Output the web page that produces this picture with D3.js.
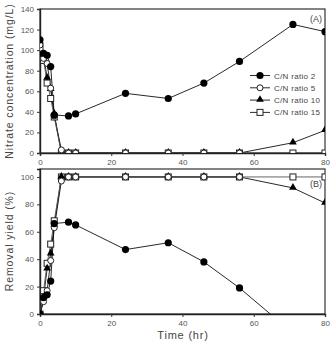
<!DOCTYPE html>
<html>
<head>
<meta charset="utf-8">
<script src="https://cdn.jsdelivr.net/npm/d3@7"></script>
<style>
  body { margin: 0; background: #fff; }
  text { font-family: "Liberation Sans", Arial, sans-serif; }
</style>
</head>
<body>
<div id="chart"></div>
<script>

// час відбору проб
var timeA2 = [0, 1, 2, 3, 4, 8, 10, 24, 36, 46, 56, 71, 80];
var timeA5 = [0, 1, 2, 3, 4, 6, 8, 10, 24, 36, 46, 56];
var timeAll = [0, 1, 2, 3, 4, 6, 8, 10, 24, 36, 46, 56, 71, 80];

// (A) нітрати, mg/L
var nitrate2  = [110, 97, 95, 84, 37, 36, 38, 58, 53, 68, 89, 125, 118];
var nitrate5  = [105, 92, 87, 63, 36, 3, 0, 0, 0, 0, 0, 0];
var nitrate10 = [108, 95, 73, 62, 38, 0, 0, 0, 0, 0, 0, 0, 10, 22];
var nitrate15 = [102, 90, 68, 53, 35, 0, 0, 0, 0, 0, 0, 0, 0, 0];

// (B) ефективність видалення, %
var yield2  = [0, 12, 14, 24, 66, 67, 65, 47, 52, 38, 19, -14, -7];
var yield5  = [0, 9, 17, 39, 63, 97, 100, 100, 100, 100, 100, 100];
var yield10 = [0, 12, 33, 44, 65, 100, 100, 100, 100, 100, 100, 100, 92, 81];
var yield15 = [0, 17, 37, 51, 68, 100, 100, 100, 100, 100, 100, 100, 100, 100];

var seriesNames = ["C/N  ratio  2", "C/N  ratio  5", "C/N  ratio  10", "C/N  ratio  15"];
var xTicks = [0, 20, 40, 60, 80];
var yTicksA = [0, 20, 40, 60, 80, 100, 120, 140];
var yTicksB = [0, 20, 40, 60, 80, 100];

var width = 331, height = 341;
var left = 40, right = 325;

var svg = d3.select("#chart").append("svg")
    .attr("width", width)
    .attr("height", height);

var x = d3.scaleLinear().domain([0, 80]).range([left, right]);

function zip(t, v) {
    return t.map(function(d, i) { return {t: d, v: v[i]}; });
}

var markers = ["fcircle", "ocircle", "triangle", "square"];

function drawMarker(g, type, cx, cy) {
    if (type == "fcircle") {
        g.append("circle").attr("cx", cx).attr("cy", cy).attr("r", 3.6).attr("fill", "#000");
    } else if (type == "ocircle") {
        g.append("circle").attr("cx", cx).attr("cy", cy).attr("r", 3).attr("fill", "#fff")
            .attr("stroke", "#222").attr("stroke-width", 1);
    } else if (type == "triangle") {
        g.append("path")
            .attr("d", d3.symbol().type(d3.symbolTriangle).size(26)())
            .attr("transform", "translate(" + cx + "," + (cy - 0.5) + ")")
            .attr("fill", "#000");
    } else {
        g.append("rect").attr("x", cx - 3).attr("y", cy - 3).attr("width", 6).attr("height", 6)
            .attr("fill", "#fff").attr("stroke", "#222").attr("stroke-width", 1);
    }
}

function panel(id, top, bottom, domainMax, yTicks, data, label, labelY, title, titleY) {
    var y = d3.scaleLinear().domain([0, domainMax]).range([bottom, top]);
    var g = svg.append("g");

    g.append("clipPath").attr("id", id)
        .append("rect").attr("x", left).attr("y", top).attr("width", right - left).attr("height", bottom - top);

    // рамка
    g.append("rect")
        .attr("x", left).attr("y", top)
        .attr("width", right - left).attr("height", bottom - top)
        .attr("fill", "none").attr("stroke", "#333").attr("stroke-width", 1.2);

    var xAxis = g.append("g")
        .attr("transform", "translate(0," + bottom + ")")
        .call(d3.axisBottom(x).tickValues(xTicks).tickSize(3).tickPadding(3));
    var yAxis = g.append("g")
        .attr("transform", "translate(" + left + ",0)")
        .call(d3.axisLeft(y).tickValues(yTicks).tickSize(3).tickPadding(3));

    [xAxis, yAxis].forEach(function(a) {
        a.select(".domain").attr("stroke", "#222").attr("stroke-width", 1.4);
        a.selectAll(".tick line").attr("stroke", "#333");
        a.selectAll("text").attr("fill", "#555").style("font-size", "8px");
    });

    var line = d3.line()
        .x(function(d) { return x(d.t); })
        .y(function(d) { return y(d.v); });

    var plot = g.append("g").attr("clip-path", "url(#" + id + ")");

    data.forEach(function(s, i) {
        plot.append("path")
            .datum(s)
            .attr("d", line)
            .attr("fill", "none")
            .attr("stroke", i == 3 ? "#555" : "#111")
            .attr("stroke-width", 0.9);
    });
    // маркери в зворотному порядку, щоб кружки були зверху
    [3, 2, 1, 0].forEach(function(i) {
        data[i].forEach(function(d) {
            if (d.v < 0) return;
            drawMarker(plot, markers[i], x(d.t), y(d.v));
        });
    });

    g.append("text")
        .attr("transform", "translate(13," + labelY + ") rotate(-90)")
        .attr("text-anchor", "middle")
        .attr("fill", "#444")
        .style("font-size", "10.5px")
        .style("letter-spacing", "0.9px")
        .text(label);

    g.append("text")
        .attr("x", 322).attr("y", titleY)
        .attr("text-anchor", "end")
        .attr("fill", "#444")
        .style("font-size", "9px")
        .text(title);

    return y;
}

panel("clipA", 9, 153, 140, yTicksA,
    [zip(timeA2, nitrate2), zip(timeA5, nitrate5), zip(timeAll, nitrate10), zip(timeAll, nitrate15)],
    "Nitrate  concentration  (mg/L)", 81, "(A)", 22);

panel("clipB", 169, 314, 105.8, yTicksB,
    [zip(timeA2, yield2), zip(timeA5, yield5), zip(timeAll, yield10), zip(timeAll, yield15)],
    "Removal  yield  (%)", 241, "(B)", 187);

// легенда
var legend = svg.append("g");
var legendOrder = [0, 1, 2, 3];
legendOrder.forEach(function(i, k) {
    var ly = 75.5 + k * 12.3;
    legend.append("line")
        .attr("x1", 250).attr("x2", 270).attr("y1", ly).attr("y2", ly)
        .attr("stroke", "#111").attr("stroke-width", 0.9);
    drawMarker(legend, markers[i], 260, ly);
    legend.append("text")
        .attr("x", 274).attr("y", ly + 3)
        .attr("fill", "#444")
        .style("font-size", "8px")
        .style("letter-spacing", "0.3px")
        .text(seriesNames[i]);
});

svg.append("text")
    .attr("x", 183).attr("y", 339)
    .attr("text-anchor", "middle")
    .attr("fill", "#444")
    .style("font-size", "11px")
    .style("letter-spacing", "0.8px")
    .text("Time  (hr)");

</script>
</body>
</html>
